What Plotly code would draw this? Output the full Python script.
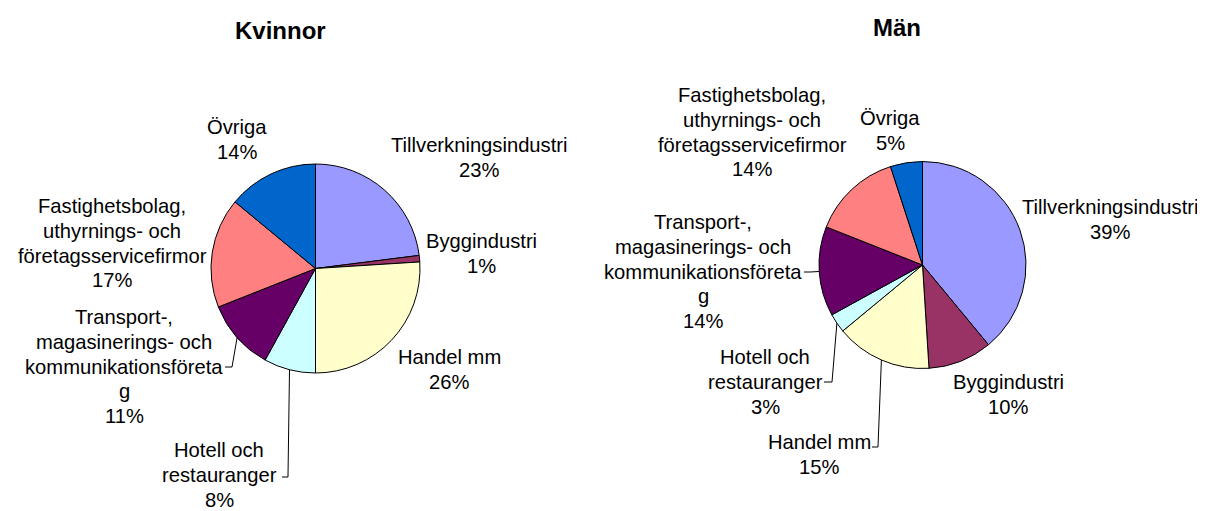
import math
import plotly.graph_objects as go

# ---- data ----
categories = ["Tillverkningsindustri", "Byggindustri", "Handel mm", "Hotell och restauranger",
              "Transport-, magasinerings- och kommunikationsföretag",
              "Fastighetsbolag, uthyrnings- och företagsservicefirmor", "Övriga"]
kvinnor_values = [23, 1, 26, 8, 11, 17, 14]
man_values = [39, 10, 15, 3, 14, 14, 5]
label_lines = [["Tillverkningsindustri"], ["Byggindustri"], ["Handel mm"],
               ["Hotell och", "restauranger"],
               ["Transport-,", "magasinerings- och", "kommunikationsföreta", "g"],
               ["Fastighetsbolag,", "uthyrnings- och", "företagsservicefirmor"], ["Övriga"]]
titles = ["Kvinnor", "Män"]

# ---- style / layout (pixel positions in the 1205x511 window) ----
OFF = 8  # browser body margin
W, H = 1205 - OFF, 511 - OFF
colors = ["#9999FF", "#993366", "#FFFFCC", "#CCFFFF", "#660066", "#FF8080", "#0066CC"]
FONT = "Arial, 'Liberation Sans', sans-serif"
LABEL_SIZE = 20.2
LINE_STEP = 24.8
pies = [
    dict(cx=315.5, cy=268.5, r=104.5, title_xy=(280, 30)),
    dict(cx=922.5, cy=265.0, r=103.5, title_xy=(897, 28)),
]
# (centre x, first-line centre y) for each label block
label_pos = [
    [(479, 145), (481, 241), (449, 357), (219, 450), (124, 317), (112, 206), (237, 127)],
    [(1110, 207), (1008, 382), (819, 442), (765, 357), (703, 222), (752, 95), (890, 118)],
]
# leader lines: (slice index, elbow point, end point)
leaders = [
    [(4, (232, 367), (225, 367)), (3, (288, 477), (282, 477))],
    [(4, (810, 272), (804, 272)), (3, (832, 382), (824, 382)), (2, (878, 447), (872, 447))],
]

def px(x):
    return (x - OFF) / W

def py(y):
    return 1 - (y - OFF) / H

fig = go.Figure()
annotations = []
shapes = []
for p, vals, title, lpos, leads in zip(pies, [kvinnor_values, man_values], titles, label_pos, leaders):
    cx, cy, r = p["cx"], p["cy"], p["r"]
    fig.add_trace(go.Pie(
        values=vals, labels=categories, sort=False, direction="clockwise", rotation=0,
        marker=dict(colors=colors, line=dict(color="black", width=1)),
        textinfo="none", hoverinfo="label+percent", showlegend=False,
        domain=dict(x=[px(cx - r), px(cx + r)], y=[py(cy + r), py(cy - r)]),
    ))
    annotations.append(dict(text="<b>%s</b>" % title, x=px(p["title_xy"][0]), y=py(p["title_xy"][1]),
                            xref="paper", yref="paper", showarrow=False,
                            xanchor="center", yanchor="middle", borderpad=0,
                            font=dict(family=FONT, size=24, color="black")))
    total = sum(vals)
    for lines, v, (lx, ly) in zip(label_lines, vals, lpos):
        all_lines = lines + ["%d%%" % round(100 * v / total)]
        for i, t in enumerate(all_lines):
            annotations.append(dict(text=t, x=px(lx), y=py(ly + i * LINE_STEP),
                                    xref="paper", yref="paper", showarrow=False,
                                    xanchor="center", yanchor="middle", borderpad=0,
                                    font=dict(family=FONT, size=LABEL_SIZE, color="black")))
    cum = [sum(vals[:i]) for i in range(len(vals))]
    for idx, (ex, ey), (tx, ty) in leads:
        mid = (cum[idx] + vals[idx] / 2) / total * 2 * math.pi
        sx = cx + r * math.sin(mid)
        sy = cy - r * math.cos(mid)
        path = "M %f %f L %f %f L %f %f" % (px(sx), py(sy), px(ex), py(ey), px(tx), py(ty))
        shapes.append(dict(type="path", path=path, xref="paper", yref="paper",
                           line=dict(color="black", width=1)))

fig.update_layout(width=W, height=H, margin=dict(l=0, r=0, t=0, b=0),
                  paper_bgcolor="white", plot_bgcolor="white",
                  annotations=annotations, shapes=shapes)
fig.write_html("out.html")
